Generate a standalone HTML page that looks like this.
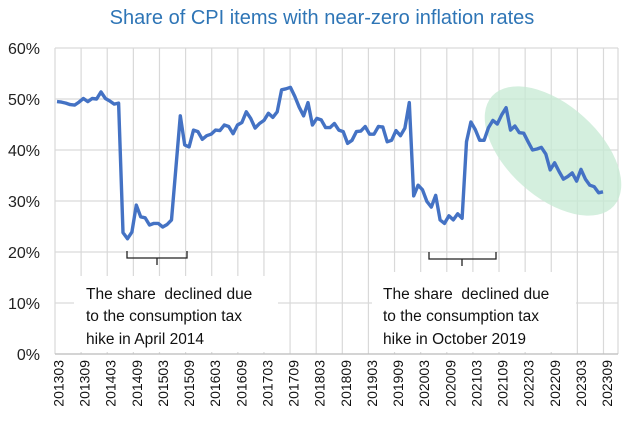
<!DOCTYPE html>
<html><head><meta charset="utf-8"><style>
body{margin:0;background:#fff;}
svg{display:block;font-family:"Liberation Sans",sans-serif;}
</style></head><body>
<svg id="chart" width="630" height="436" viewBox="0 0 630 436">
<text x="322" y="24" text-anchor="middle" font-size="20" fill="#2e75b6">Share of CPI items with near-zero inflation rates</text>
<g id="grid"></g>
<g id="yaxis"></g>
<g id="xaxis"></g>
<ellipse cx="553" cy="151" rx="82" ry="46" transform="rotate(42 553 151)" fill="#c6ead3" fill-opacity="0.75"/>
<g id="series"></g>
<g fill="none" stroke="#222" stroke-width="1.3">
<path d="M127 251 V258 H187 V251 M157 258 V265"/></g>
<g fill="none" stroke="#222" stroke-width="1.3">
<path d="M429 252 V259 H496 V252 M462 259 V266"/></g>
<rect x="74" y="276" width="204" height="76" fill="#fff"/>
<g font-size="15.5" fill="#111">
<text x="86" y="299" xml:space="preserve">The share  declined due</text>
<text x="86" y="321">to the consumption tax</text>
<text x="86" y="344">hike in April 2014</text></g>
<rect x="372" y="272" width="204" height="80" fill="#fff"/>
<g font-size="15.5" fill="#111">
<text x="383" y="299" xml:space="preserve">The share  declined due</text>
<text x="383" y="321">to the consumption tax</text>
<text x="383" y="344">hike in October 2019</text></g>
</svg>
<script>
const yTicks=[0,10,20,30,40,50,60];
const xLabels=["201303","201309","201403","201409","201503","201509","201603","201609","201703","201709","201803","201809","201903","201909","202003","202009","202103","202109","202203","202209","202303","202309"];
const shareValues=[49.5,49.4,49.2,48.9,48.8,49.4,50.1,49.5,50.1,50.0,51.4,50.1,49.6,49.0,49.2,
23.8,22.6,23.9,29.2,26.9,26.7,25.3,25.6,25.6,24.9,25.4,26.3,36.5,46.7,41.0,40.6,43.9,43.6,42.1,42.8,43.1,43.9,43.8,44.9,44.6,43.2,44.9,45.4,
47.5,46.2,44.3,45.2,45.8,47.2,46.4,47.5,51.8,52.0,52.3,50.5,48.4,46.7,49.3,44.9,46.2,45.9,44.4,44.4,45.2,43.9,43.6,41.3,41.9,43.6,43.7,44.6,43.1,43.1,44.6,44.5,41.6,41.9,43.8,42.8,44.3,49.3,31.0,33.1,32.2,29.9,28.8,31.1,26.3,
25.6,27.1,26.3,27.5,26.6,41.6,45.5,44.0,41.9,41.9,44.4,45.8,45.1,46.9,48.3,43.9,44.7,43.4,43.3,41.6,40.0,40.2,40.5,39.2,36.1,37.5,35.8,34.3,34.8,35.5,33.9,36.2,34.3,33.1,32.8,31.6,31.8];
const NS='http://www.w3.org/2000/svg';
const L=55,R=618,T=48,B=354;
function yS(v){return B-(v-0)/60*(B-T);}
function xL(k){return L+k*(603.5-L)/(xLabels.length-1);}
function xD(i){return 57+i*(603-57)/(shareValues.length-1);}
function mk(tag,attrs,parent){const e=document.createElementNS(NS,tag);for(const k in attrs)e.setAttribute(k,attrs[k]);parent.appendChild(e);return e;}
const grid=document.getElementById('grid'),ya=document.getElementById('yaxis'),xa=document.getElementById('xaxis'),ser=document.getElementById('series');
yTicks.forEach(t=>{
 const ln=mk('line',{x1:L,x2:R,y1:yS(t),y2:yS(t),stroke:'#d9d9d9','stroke-width':1.2},grid);
 
 
 const tx=mk('text',{x:40,y:yS(t)+6,'text-anchor':'end','font-size':16,fill:'#222'},ya);
 tx.textContent=t+'%';
 
 
});
xLabels.forEach((lab,k)=>{
 const x=xL(k);
 const ln=mk('line',{x1:x,x2:x,y1:T,y2:B,stroke:'#d9d9d9','stroke-width':1.2},grid);
 
 
 const tx=mk('text',{x:0,y:0,'text-anchor':'end','font-size':14,fill:'#111',transform:`translate(${x+8.5},360) rotate(-90)`},xa);
 tx.textContent=lab;
 
 
});
const rb=mk('line',{x1:R,x2:R,y1:T,y2:B,stroke:'#d9d9d9','stroke-width':1.2},grid);


const ax=mk('line',{x1:L,x2:R,y1:B,y2:B,stroke:'#bfbfbf','stroke-width':1.2},grid);


const pts=shareValues.map((v,i)=>xD(i).toFixed(1)+','+yS(v).toFixed(1)).join(' ');
const pl=mk('polyline',{points:pts,fill:'none',stroke:'#4472c4','stroke-width':3.4,'stroke-linejoin':'round'},ser);


</script>
</body></html>
